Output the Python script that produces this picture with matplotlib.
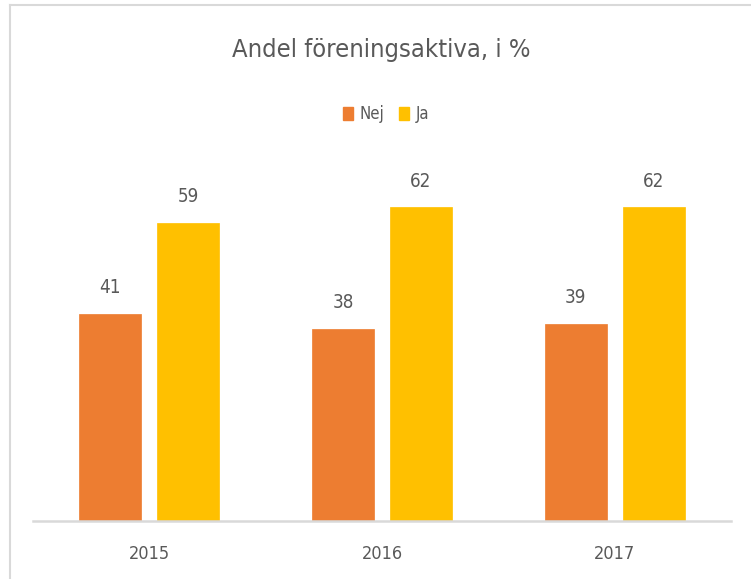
import matplotlib.pyplot as plt
import numpy as np
from matplotlib.lines import Line2D
from matplotlib.patches import Patch

years = ["2015", "2016", "2017"]
nej = [41, 38, 39]
ja = [59, 62, 62]

series_names = ["Nej", "Ja"]
series_colors = ["#ED7D31", "#FFC000"]
text_color = "#595959"
grid_color = "#D9D9D9"

plt.rcParams["font.family"] = ["DejaVu Sans"]
plt.rcParams["font.stretch"] = "condensed"

W, H = 751, 579
fig = plt.figure(figsize=(W / 100, H / 100), dpi=100)
fig.patch.set_facecolor("white")

# axes placed in pixel terms
left, right, bottom, top = 33, 731, 521, 167
ax = fig.add_axes([left / W, 1 - bottom / H, (right - left) / W, (bottom - top) / H])

x = np.arange(len(years))
width = 0.266
offset = 0.1674

for vals, off, col in zip([nej, ja], [-offset, offset], series_colors):
    bars = ax.bar(x + off, vals, width, color=col, edgecolor=col, linewidth=0.5, zorder=2)
    for b, v in zip(bars, vals):
        ax.annotate(str(v), (b.get_x() + b.get_width() / 2, v), xytext=(0, 19),
                    textcoords="offset points", ha="center", va="center",
                    fontsize=13.5, color=text_color)

ax.set_xlim(-0.5, 2.5)
ax.set_ylim(0, 70)
ax.set_yticks([])
ax.set_xticks(x)
ax.set_xticklabels(years, fontsize=13, color=text_color)
ax.tick_params(axis="x", length=0, pad=17)
for s in ["left", "right", "top"]:
    ax.spines[s].set_visible(False)
ax.spines["bottom"].set_color(grid_color)
ax.spines["bottom"].set_linewidth(1.8)
ax.spines["bottom"].set_zorder(3)

fig.text(381 / W, 1 - 57 / H, "Andel föreningsaktiva, i %", ha="center", va="baseline",
         fontsize=18.3, color=text_color)

handles = [Patch(facecolor=c, edgecolor=c) for c in series_colors]
fig.legend(handles, series_names, loc="center", bbox_to_anchor=(386 / W, 1 - 114 / H),
           ncol=2, frameon=False, fontsize=12, labelcolor=text_color,
           handlelength=0.6, handleheight=0.8, handletextpad=0.4, columnspacing=0.9)

# chart border (left and top edges visible)
fig.add_artist(Line2D([10 / W, 10 / W], [0, 1 - 4.5 / H], transform=fig.transFigure,
                      color=grid_color, linewidth=1.5))
fig.add_artist(Line2D([10 / W, 1], [1 - 4.5 / H, 1 - 4.5 / H], transform=fig.transFigure,
                      color=grid_color, linewidth=1.5))

fig.savefig("out.png", dpi=100, facecolor="white")
